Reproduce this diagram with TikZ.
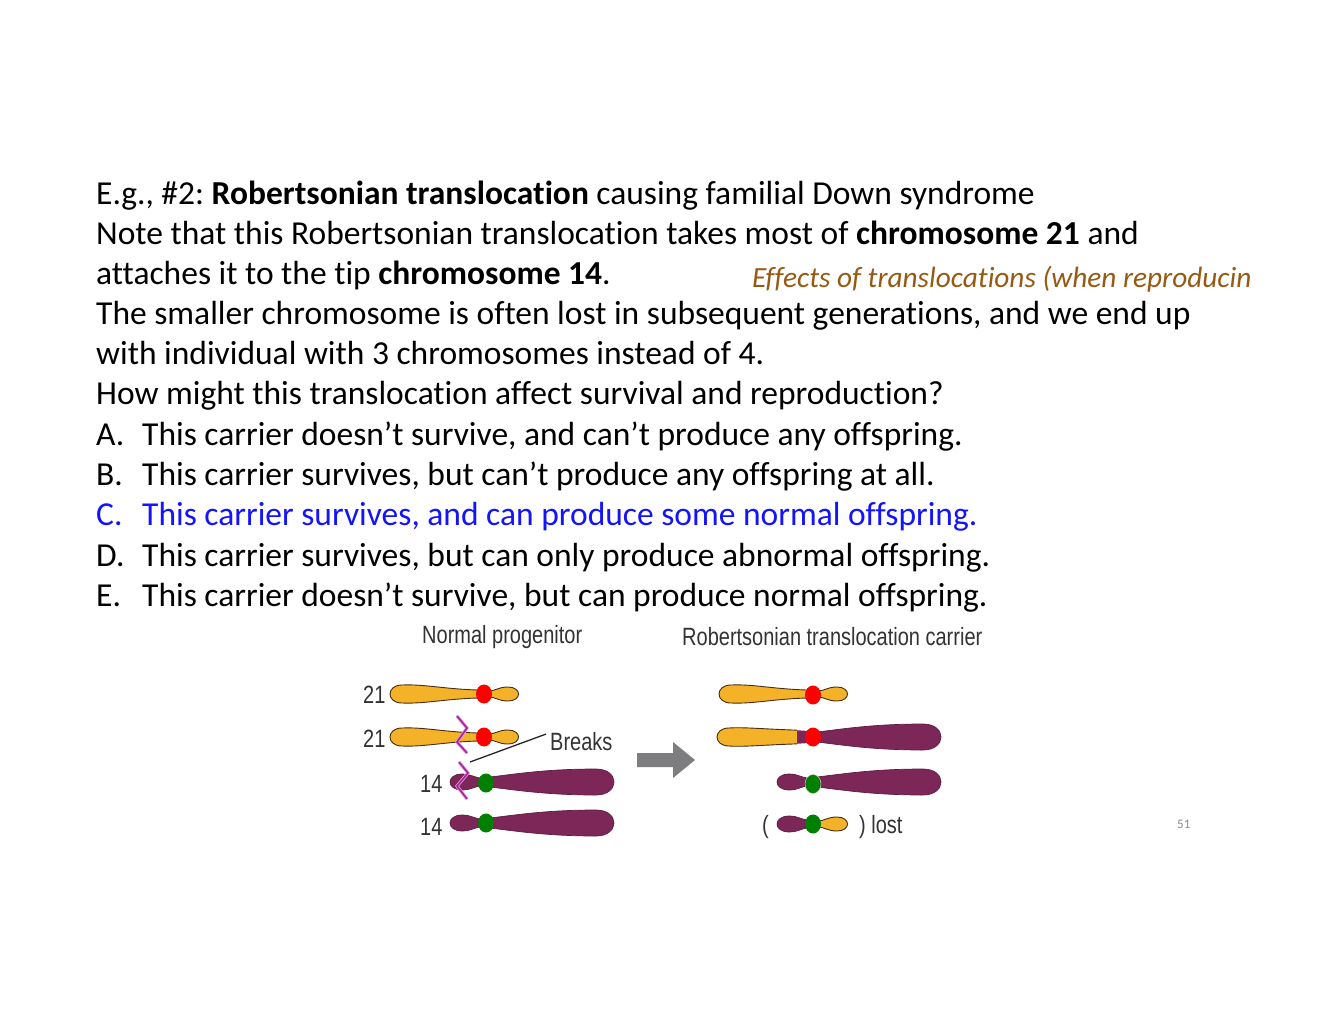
\documentclass[tikz,border=0pt]{standalone}
\usepackage{fontspec}
\setmainfont{Carlito}[Ligatures={NoCommon}]
\newfontfamily\labfont[FakeStretch=0.8]{Liberation Sans}
\usetikzlibrary{shapes.geometric}
\definecolor{chryel}{RGB}{244,178,40}
\definecolor{chrpur}{RGB}{125,38,88}
\definecolor{chrline}{RGB}{70,45,20}
\definecolor{chrgreen}{RGB}{0,128,0}
\definecolor{ansblue}{RGB}{20,20,250}
\definecolor{handbrown}{RGB}{150,90,20}
\definecolor{zig}{RGB}{160,40,150}
\definecolor{ziglight}{RGB}{235,150,225}
\definecolor{arrgray}{RGB}{125,125,128}
\tikzset{
  body/.style={anchor=base west,inner sep=0,font=\fontsize{33.5}{40}\selectfont\frenchspacing},
  lab/.style={anchor=base west,inner sep=0,font=\labfont\fontsize{25}{28}\selectfont,text=black!80},
  yel/.style={fill=chryel,draw=chrline,line width=0.9},
  pur/.style={fill=chrpur,draw=chrpur!75!black,line width=0.7},
  cen/.style={ellipse,inner sep=0,minimum width=16,minimum height=19},
  chrlongL/.pic={\path[pic actions] (-6,-4) .. controls (-40,-5) and (-60,-10) .. (-82,-9) .. controls (-98,-9) and (-98,9) .. (-82,9) .. controls (-60,10) and (-40,5) .. (-6,4) -- cycle;},
  chrshortR/.pic={\path[pic actions] (4,-3) .. controls (12,-3) and (14,-7) .. (24,-7) .. controls (38,-7) and (38,7) .. (24,7) .. controls (14,7) and (12,3) .. (4,3) -- cycle;},
  chrlongR/.pic={\path[pic actions] (4,-5) .. controls (30,-8) and (60,-13) .. (110,-13) .. controls (134,-13) and (134,13) .. (110,13) .. controls (60,13) and (30,8) .. (4,5) -- cycle;},
  chrshortL/.pic={\path[pic actions] (-4,-4) .. controls (-12,-4) and (-14,-8) .. (-24,-8) .. controls (-40,-8) and (-40,8) .. (-24,8) .. controls (-14,8) and (-12,4) .. (-4,4) -- cycle;},
  chrfusedL/.pic={
    \begin{scope}
      \clip (-4,-6) -- (-20,-7) .. controls (-50,-8) and (-70,-10) .. (-84,-9) .. controls (-100,-9) and (-100,9) .. (-84,9) .. controls (-70,10) and (-50,8) .. (-20,7) -- (-4,6) -- cycle;
      \fill[chryel] (-100,-12) rectangle (-16,12);
      \fill[chrpur] (-16,-12) rectangle (0,12);
    \end{scope}
    \draw[chrline,line width=0.9] (-16,-6.8) -- (-20,-7) .. controls (-50,-8) and (-70,-10) .. (-84,-9) .. controls (-100,-9) and (-100,9) .. (-84,9) .. controls (-70,10) and (-50,8) .. (-20,7) -- (-16,6.8);
  },
  zigglow/.style={draw=ziglight,line width=3.2,line join=miter},
  zigline/.style={draw=zig,line width=1.6,line join=miter}
}
\begin{document}
\begin{tikzpicture}[x=1pt,y=-1pt]
\useasboundingbox[fill=white] (0,0) rectangle (1320,1020);
% ---- text ----
\node[body] (t1) at (96,204) {E.g., \#2: \textbf{Robertsonian translocation} causing familial Down syndrome};
\node[body] (t2) at (96,244) {Note that this Robertsonian translocation takes most of \textbf{chromosome 21} and};
\node[body] (t3) at (96,284) {attaches it to the tip \textbf{chromosome 14}.};
\node[anchor=base west,inner sep=0,font=\itshape\fontsize{29.3}{32}\selectfont,text=handbrown] (hw) at (752,287) {Effects of translocations (when reproducin};
\node[body] (t4) at (96,324) {The smaller chromosome is often lost in subsequent generations, and we end up};
\node[body] (t5) at (96,364) {with individual with 3 chromosomes instead of 4.};
\node[body] (t6) at (96,404) {How might this translocation affect survival and reproduction?};
\node[body] (la) at (96,445) {A.};
\node[body] (a) at (142,445) {This carrier doesn’t survive, and can’t produce any offspring.};
\node[body] (lb) at (96,485) {B.};
\node[body] (b) at (142,485) {This carrier survives, but can’t produce any offspring at all.};
\node[body,text=ansblue] (lc) at (96,525) {C.};
\node[body,text=ansblue] (c) at (142,525) {This carrier survives, and can produce some normal offspring.};
\node[body] (ld) at (96,566) {D.};
\node[body] (d) at (142,566) {This carrier survives, but can only produce abnormal offspring.};
\node[body] (le) at (96,606) {E.};
\node[body] (e) at (142,606) {This carrier doesn’t survive, but can produce normal offspring.};
\node[anchor=base west,inner sep=0,font=\fontsize{13}{15}\selectfont,text=black!45] (pg) at (1177,828) {51};
% ---- diagram labels ----
\node[lab] (hn) at (422,643) {Normal progenitor};
\node[lab] (hr) at (682,645) {Robertsonian translocation carrier};
\node[lab] (n1) at (363,703) {21};
\node[lab] (n2) at (363,747) {21};
\node[lab] (n3) at (420,792) {14};
\node[lab] (n4) at (420,835) {14};
\node[lab] (brk) at (550,750) {Breaks};
\node[lab] (lp) at (762,833) {(};
\node[lab] (lost) at (859,833) {) lost};
% ---- normal progenitor ----
\pic[yel] at (484,694) {chrlongL};
\pic[yel] at (484,694) {chrshortR};
\node[cen,fill=red] (c1) at (484,694) {};
\pic[yel] at (484,737) {chrlongL};
\pic[yel] at (484,737) {chrshortR};
\node[cen,fill=red] (c2) at (484,737) {};
\pic[pur] at (486,782) {chrshortL};
\pic[pur] at (486,782) {chrlongR};
\node[cen,fill=chrgreen] (c3) at (486,783) {};
\pic[pur] at (486,823) {chrshortL};
\pic[pur] at (486,823) {chrlongR};
\node[cen,fill=chrgreen] (c4) at (486,823) {};
% breaks
\draw[zigglow] (457,716) -- (467,728) -- (457,742) -- (467,753);
\draw[zigline] (457,716) -- (467,728) -- (457,742) -- (467,753);
\draw[zigglow] (459,762) -- (468,773) -- (457,786) -- (467,799);
\draw[zigline] (459,762) -- (468,773) -- (457,786) -- (467,799);
\coordinate (bk) at (470,762);
\draw[black!85,line width=1.3] (brk.west) ++(-4,-7) -- (bk);
% ---- arrow ----
\fill[arrgray] (637,753) -- (673,753) -- (673,742) -- (695,760) -- (673,778) -- (673,767) -- (637,767) -- cycle;
% ---- carrier ----
\pic[yel] at (813,694) {chrlongL};
\pic[yel] at (813,694) {chrshortR};
\node[cen,fill=red] (r1) at (813,695) {};
\pic at (813,737) {chrfusedL};
\pic[pur] at (813,737) {chrlongR};
\node[cen,fill=red] (r2) at (813,737) {};
\pic[pur] at (813,782) {chrshortL};
\pic[pur] at (813,782) {chrlongR};
\node[cen,fill=chrgreen,draw=white!80!black,line width=0.5] (r3) at (813,784) {};
\pic[pur] at (813,824) {chrshortL};
\pic[yel] at (813,824) {chrshortR};
\node[cen,fill=chrgreen] (r4) at (813,824) {};
\end{tikzpicture}
\end{document}
